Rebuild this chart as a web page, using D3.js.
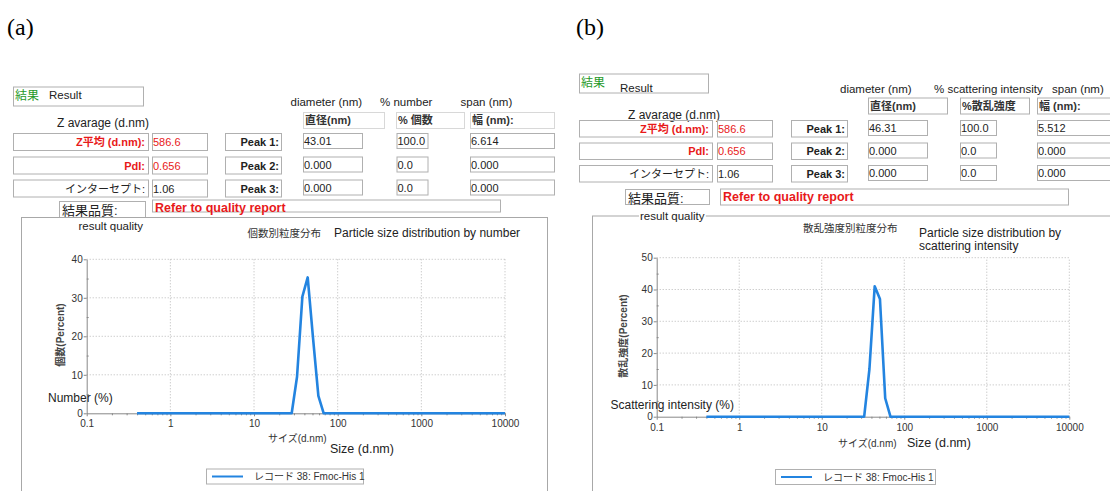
<!DOCTYPE html>
<html>
<head>
<meta charset="utf-8">
<script src="https://cdn.jsdelivr.net/npm/d3@7"></script>
<style>
  html, body { margin: 0; padding: 0; background: #fff; }
  svg { display: block; font-family: "Liberation Sans", Arial, "Noto Sans CJK JP", sans-serif; }
  .box { fill: none; stroke: #b0b0b0; stroke-width: 1; }
  .hbox { fill: none; stroke: #d8d8d8; stroke-width: 1; }
  .grid line { stroke: #b8b8b8; stroke-dasharray: 1 2; }
  .axis path, .axis line { stroke: #888; }
  .axis text { font-size: 10px; fill: #333; font-family: "Liberation Sans", Arial, sans-serif; }
</style>
</head>
<body>
<div id="chart"></div>
<script>
// ---- data ----
var summaryLabels = ["Z平均 (d.nm):", "PdI:", "インターセプト:"];
var summaryValues = ["586.6", "0.656", "1.06"];
var peakLabels = ["Peak 1:", "Peak 2:", "Peak 3:"];

var diamA = ["43.01", "0.000", "0.000"];
var pctA  = ["100.0", "0.0", "0.0"];
var spanA = ["6.614", "0.000", "0.000"];

var diamB = ["46.31", "0.000", "0.000"];
var pctB  = ["100.0", "0.0", "0.0"];
var spanB = ["5.512", "0.000", "0.000"];

var xTicks  = [0.1, 1, 10, 100, 1000, 10000];
var yTicksA = [0, 10, 20, 30, 40];
var yTicksB = [0, 10, 20, 30, 40, 50];

// size bins (d.nm) and % for each record
var sizesA    = [0.4, 28.21, 32.67, 37.84, 43.82, 50.75, 58.77, 68.06, 10000];
var numberPct = [0, 0, 9.5, 30.3, 35.3, 19.5, 4.5, 0, 0];

var sizesB       = [0.4, 32.67, 37.84, 43.82, 50.75, 58.77, 68.06, 10000];
var intensityPct = [0, 0, 15, 41, 37, 5.8, 0, 0];

var legendText = "レコード 38: Fmoc-His 1";
var blue = "#2384e0", red = "#e8191a", green = "#1f9a2a";

var W = 1110, H = 491;
var svg = d3.select("#chart").append("svg")
    .attr("width", W).attr("height", H)
    .attr("viewBox", "0 0 " + W + " " + H);

function txt(g, x, y, s, o){
    o = o || {};
    return g.append("text").attr("x", x).attr("y", y)
        .attr("font-size", o.size || 12)
        .attr("font-weight", o.bold ? "bold" : null)
        .attr("fill", o.color || "#222")
        .attr("text-anchor", o.anchor || "start")
        .attr("font-family", o.family || null)
        .text(s);
}
function rect(g, x, y, w, h, cls){
    return g.append("rect").attr("class", cls || "box")
        .attr("x", x + 0.5).attr("y", y + 0.5).attr("width", w).attr("height", h);
}

function panel(c){
    var g = svg.append("g");

    txt(g, c.letter[0], c.letter[1], c.letterText, {size: 24, family: "'Liberation Serif', 'Times New Roman', serif", color: "#000"});

    // result header
    rect(g, c.result[0], c.result[1], c.result[2], c.result[3]);
    txt(g, c.result[0] + 2, c.resultText[0], "結果", {size: 12, color: green});
    txt(g, c.resultText[1], c.resultText[2], "Result", {size: 11.5, color: "#222"});

    txt(g, c.zavg[0], c.zavg[1], "Z avarage (d.nm)", {size: 12});

    // column headers
    c.colEn.forEach(function(d){ txt(g, d[0], c.colEnY, d[1], {size: 11.5}); });
    c.colHdr.forEach(function(d){
        rect(g, d[0], c.hdrY, d[1], 16, c.hdrCls);
        txt(g, d[0] + 2, c.hdrY + 12, d[2], {size: 11, bold: true, color: "#333"});
    });

    // summary rows
    summaryLabels.forEach(function(lab, i){
        var y = c.rowY[i];
        var col = i < 2 ? red : "#222";
        rect(g, c.lab[0], y, c.lab[1], c.rowH);
        txt(g, c.lab[0] + c.lab[1] - 3, y + c.rowH - 4, lab, {size: 11, bold: i < 2, color: col, anchor: "end"});
        rect(g, c.val[0], y, c.val[1], c.rowH);
        txt(g, c.val[0] + 1, y + c.rowH - 4, summaryValues[i], {size: 11, color: col});
        rect(g, c.peak[0], y, c.peak[1], c.rowH);
        txt(g, c.peak[0] + c.peak[1] - 2, y + c.rowH - 4, peakLabels[i], {size: 11, bold: true, anchor: "end"});
        [[c.diam, c.diamVals], [c.pct, c.pctVals], [c.span, c.spanVals]].forEach(function(cc){
            rect(g, cc[0][0], y, cc[0][1], 15);
            txt(g, cc[0][0] + 1, y + 12, cc[1][i], {size: 11});
        });
    });

    // quality
    rect(g, c.qual[0], c.qual[1], c.qual[2], c.qual[3]);
    txt(g, c.qual[0] + 3, c.qual[1] + 14, "結果品質:", {size: 13, color: "#222"});
    rect(g, c.refer[0], c.refer[1], c.refer[2], c.refer[3]);
    txt(g, c.refer[0] + 3, c.refer[1] + 12, "Refer to quality report", {size: 12.5, bold: true, color: red});

    // chart frame
    g.append("rect").attr("x", c.frame[0] + 0.5).attr("y", c.frame[1] + 0.5)
        .attr("width", c.frame[2]).attr("height", 400)
        .attr("fill", "none").attr("stroke", "#a8a8a8");
    var rq = txt(g, c.rq[0], c.rq[1], "result quality", {size: 11.5});
    if (c.rqBg) {
        var bb = rq.node().getBBox();
        g.insert("rect", "text:last-child").attr("x", bb.x - 1).attr("y", bb.y)
            .attr("width", bb.width + 2).attr("height", bb.height).attr("fill", "#fff");
    }

    // titles
    txt(g, c.tJp[0], c.tJp[1], c.titleJp, {size: 10.5, color: "#333"});
    c.tEn.forEach(function(d){ txt(g, d[0], d[1], d[2], {size: 12, color: "#222"}); });

    // scales
    var x = d3.scaleLog().domain([0.1, 10000]).range(c.xr);
    var y = d3.scaleLinear().domain([0, c.yMax]).range(c.yr);

    // grid
    var grid = g.append("g").attr("class", "grid");
    grid.selectAll("line.v").data(xTicks.slice(1)).enter().append("line")
        .attr("x1", function(d){ return x(d); }).attr("x2", function(d){ return x(d); })
        .attr("y1", c.yr[0]).attr("y2", c.yr[1]);
    grid.selectAll("line.h").data(c.yTicks.slice(1)).enter().append("line")
        .attr("x1", c.xr[0]).attr("x2", c.xr[1])
        .attr("y1", function(d){ return y(d); }).attr("y2", function(d){ return y(d); });

    // minor ticks
    var minorX = [];
    xTicks.slice(0, -1).forEach(function(t){ d3.range(2, 10).forEach(function(k){ minorX.push(t * k); }); });
    g.append("g").attr("class", "axis").attr("transform", "translate(0," + c.yr[0] + ")")
        .call(d3.axisBottom(x).tickValues(minorX).tickSize(2).tickFormat(""))
        .call(function(s){ s.select(".domain").remove(); });
    var minorY = c.yTicks.slice(0, -1).map(function(t){ return t + 5; });
    g.append("g").attr("class", "axis").attr("transform", "translate(" + c.xr[0] + ",0)")
        .call(d3.axisRight(y).tickValues(minorY).tickSize(2).tickFormat(""))
        .call(function(s){ s.select(".domain").remove(); });

    // axes
    g.append("g").attr("class", "axis").attr("transform", "translate(0," + c.yr[0] + ")")
        .call(d3.axisBottom(x).tickValues(xTicks).tickSize(3).tickSizeOuter(0).tickPadding(4)
            .tickFormat(function(d){ return String(d); }));
    g.append("g").attr("class", "axis").attr("transform", "translate(" + c.xr[0] + ",0)")
        .call(d3.axisLeft(y).tickValues(c.yTicks).tickSize(3).tickSizeOuter(0).tickPadding(1))
        .selectAll("text").attr("font-size", 11);

    // axis labels
    txt(g, 0, 0, c.yLabel, {size: 10, bold: true, color: "#444", anchor: "middle"})
        .attr("transform", "translate(" + c.yl[0] + "," + c.yl[1] + ") rotate(-90)");
    txt(g, c.yEn[0], c.yEn[1], c.yEnText, {size: 12});
    txt(g, c.xJp[0], c.xJp[1], "サイズ(d.nm)", {size: 10, color: "#333"});
    txt(g, c.xEn[0], c.xEn[1], "Size (d.nm)", {size: 12.5});

    // curve
    var line = d3.line().x(function(d){ return x(d[0]); }).y(function(d){ return y(d[1]); });
    g.append("path").datum(d3.zip(c.sizes, c.values))
        .attr("d", line).attr("fill", "none").attr("stroke", blue)
        .attr("stroke-width", 2.6).attr("stroke-linejoin", "round");

    // legend
    rect(g, c.leg[0], c.leg[1], c.leg[2], 15).attr("stroke", "#999");
    g.append("line").attr("x1", c.leg[0] + 6).attr("x2", c.leg[0] + 37)
        .attr("y1", c.leg[1] + 8).attr("y2", c.leg[1] + 8)
        .attr("stroke", blue).attr("stroke-width", 2);
    txt(g, c.leg[0] + 48, c.leg[1] + 11.5, legendText, {size: 10, color: "#333"});
}

panel({
    letterText: "(a)", letter: [7, 35],
    result: [13, 86.5, 130, 19], resultText: [100, 49, 99],
    zavg: [57, 126.5],
    colEnY: 106, colEn: [[290.5, "diameter (nm)"], [380, "% number"], [460.5, "span (nm)"]],
    hdrY: 112, hdrCls: "hbox",
    colHdr: [[303, 81, "直径(nm)"], [396, 68, "% 個数"], [470, 84, "幅 (nm):"]],
    rowY: [133, 156.5, 179.5], rowH: 17,
    lab: [13, 135], val: [152, 55], peak: [225, 56],
    diam: [303, 59], pct: [396.5, 31], span: [470, 84],
    diamVals: diamA, pctVals: pctA, spanVals: spanA,
    qual: [59, 201, 86, 16], refer: [152, 199.5, 348, 12],
    frame: [21, 217, 526], rq: [78.5, 230], rqBg: false,
    titleJp: "個数別粒度分布", tJp: [247.5, 237],
    tEn: [[334, 237, "Particle size distribution by number"]],
    xr: [86.7, 505], yr: [413.3, 259.3], yMax: 40, yTicks: yTicksA,
    yLabel: "個数(Percent)", yl: [64, 335],
    yEnText: "Number (%)", yEn: [48, 401.5],
    xJp: [268, 442], xEn: [330, 453],
    sizes: sizesA, values: numberPct,
    leg: [206, 468.5, 157]
});

panel({
    letterText: "(b)", letter: [576, 35],
    result: [579, 73.5, 129, 19], resultText: [86.5, 620, 92],
    zavg: [628, 118.5],
    colEnY: 93, colEn: [[840, "diameter (nm)"], [934, "% scattering intensity"], [1052, "span (nm)"]],
    hdrY: 97.5, hdrCls: "box",
    colHdr: [[868, 79, "直径(nm)"], [960, 69, "%散乱強度"], [1037, 80, "幅 (nm):"]],
    rowY: [120, 142.5, 165], rowH: 16.5,
    lab: [579, 133], val: [717, 55], peak: [791, 56],
    diam: [868, 59], pct: [960, 36], span: [1037, 80],
    diamVals: diamB, pctVals: pctB, spanVals: spanB,
    qual: [625, 189, 84, 15], refer: [720, 188.5, 348, 16],
    frame: [592, 215.5, 530], rq: [640, 219.5], rqBg: true,
    titleJp: "散乱強度別粒度分布", tJp: [803, 232],
    tEn: [[919, 237, "Particle size distribution by"], [919, 250, "scattering intensity"]],
    xr: [656.7, 1069.3], yr: [416.7, 257.7], yMax: 50, yTicks: yTicksB,
    yLabel: "散乱強度(Percent)", yl: [627, 336],
    yEnText: "Scattering intensity (%)", yEn: [610.5, 408.5],
    xJp: [838, 447], xEn: [907, 447],
    sizes: sizesB, values: intensityPct,
    leg: [775, 469, 160]
});
</script>
</body>
</html>
